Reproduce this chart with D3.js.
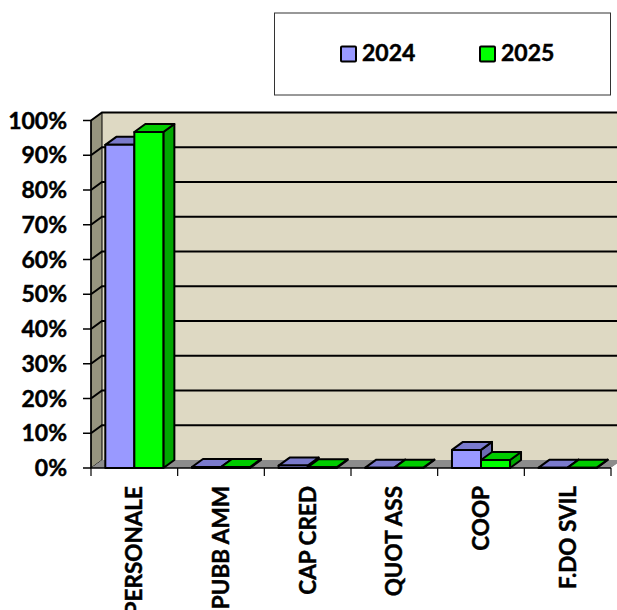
<!DOCTYPE html>
<html><head><meta charset="utf-8">
<script src="https://cdn.jsdelivr.net/npm/d3@7/dist/d3.min.js"></script>
<style>html,body{margin:0;padding:0;background:#fff}svg{display:block}text{font-family:Lato,Carlito,sans-serif;font-weight:700;fill:#000;stroke:#000;stroke-width:.45px}</style>
</head><body><svg id="c" width="617" height="610"></svg>
<script>
const categories = ["PERSONALE","PUBB AMM","CAP CRED","QUOT ASS","COOP","F.DO SVIL"];
const seriesNames = ["2024","2025"];
const values2024 = [93,0.3,0.7,0.1,5.2,0.1];
const values2025 = [96.7,0.3,0.2,0.1,2.3,0.1];
const yTicks = [0,10,20,30,40,50,60,70,80,90,100];
const frontColors = ["#9999ff","#00ff00"];
const topColors = ["#7a7acc","#00cc00"];
const sideColors = ["#6b6bb3","#00a800"];

const svg = d3.select("#c");
const L=91,R=611,T=120.5,B=468,dx=11,dy=-8;
const x = d3.scaleBand().domain(categories).range([L,R]).paddingInner(0.33).paddingOuter(0.165);
const xStep = d3.scalePoint().domain(d3.range(categories.length+1)).range([L,R]);
const y = d3.scaleLinear().domain([0,100]).range([B,T]);
const sub = d3.scaleBand().domain(seriesNames).range([0,x.bandwidth()]);
const line = d3.line();

// walls
svg.append("path").attr("d",line([[L+dx,T+dy],[R+dx+10,T+dy],[R+dx+10,B+dy],[L+dx,B+dy]])+"Z").attr("fill","#ded9c3").attr("stroke","none");
svg.append("path").attr("d",line([[L,T],[L+dx,T+dy],[L+dx,B+dy],[L,B]])+"Z").attr("fill","#97957f").attr("stroke","#000").attr("stroke-width",1);
svg.append("path").attr("d",line([[L,B],[L+dx,B+dy],[R+dx,B+dy],[R,B]])+"Z").attr("fill","#8c8c8c");
svg.append("path").attr("d",line([[R+dx,B+dy],[R+dx+10,B+dy],[R+dx+10,B],[R,B]])+"Z").attr("fill","#fff");

// grid
svg.append("g").selectAll("path").data(yTicks.filter(d=>d>0)).join("path")
  .attr("d",d=>line([[L,y(d)],[L+dx,y(d)+dy],[R+dx+10,y(d)+dy]]))
  .attr("fill","none").attr("stroke","#000").attr("stroke-width",2);

// bars
const series=[values2024,values2025];
series.forEach((vals,s)=>{
  const g=svg.append("g");
  g.selectAll("g").data(categories.map((c,i)=>({c,v:vals[i]}))).join("g").each(function(d){
    const x0=x(d.c)+sub(seriesNames[s]), x1=x0+sub.bandwidth(), y1=y(d.v);
    const sel=d3.select(this);
    const st=p=>p.attr("stroke","#000").attr("stroke-width",2).attr("stroke-linejoin","round");
    sel.append("path").attr("d",line([[x1,y1],[x1+dx,y1+dy],[x1+dx,B+dy],[x1,B]])+"Z").attr("fill",sideColors[s]).call(st);
    sel.append("path").attr("d",line([[x0,y1],[x0+dx,y1+dy],[x1+dx,y1+dy],[x1,y1]])+"Z").attr("fill",topColors[s]).call(st);
    sel.append("path").attr("d",line([[x0,y1],[x1,y1],[x1,B],[x0,B]])+"Z").attr("fill",frontColors[s]).call(st);
  });
});

// axes
svg.append("path").attr("d",line([[L,T],[L,B],[R,B]])).attr("fill","none").attr("stroke","#000").attr("stroke-width",1.5);
svg.append("g").selectAll("path").data(yTicks).join("path")
  .attr("d",d=>line([[L-8,y(d)],[L,y(d)]])).attr("stroke","#000").attr("stroke-width",1.5);
svg.append("g").selectAll("path").data(xStep.domain()).join("path")
  .attr("d",d=>line([[xStep(d),B],[xStep(d),B+8]])).attr("stroke","#000").attr("stroke-width",1.2);
svg.append("g").selectAll("text").data(yTicks).join("text")
  .attr("x",67).attr("y",d=>y(d)+8).attr("text-anchor","end").attr("font-size",23).text(d=>d+"%");
svg.append("g").selectAll("text").data(categories).join("text")
  .attr("transform",d=>`translate(${x(d)+x.bandwidth()/2+8},486) rotate(-90)`)
  .attr("text-anchor","end").attr("font-size",22.5).text(d=>d);

// legend
svg.append("rect").attr("x",274.5).attr("y",13).attr("width",336).attr("height",82).attr("fill","#fff").attr("stroke","#333").attr("stroke-width",1);
const lx=[341,480];
seriesNames.forEach((n,i)=>{
  svg.append("rect").attr("x",lx[i]).attr("y",46.5).attr("width",15).attr("height",15).attr("rx",1).attr("fill",frontColors[i]).attr("stroke","#000").attr("stroke-width",2);
  svg.append("text").attr("x",lx[i]+21).attr("y",61).attr("font-size",23).text(n);
});
</script></body></html>
